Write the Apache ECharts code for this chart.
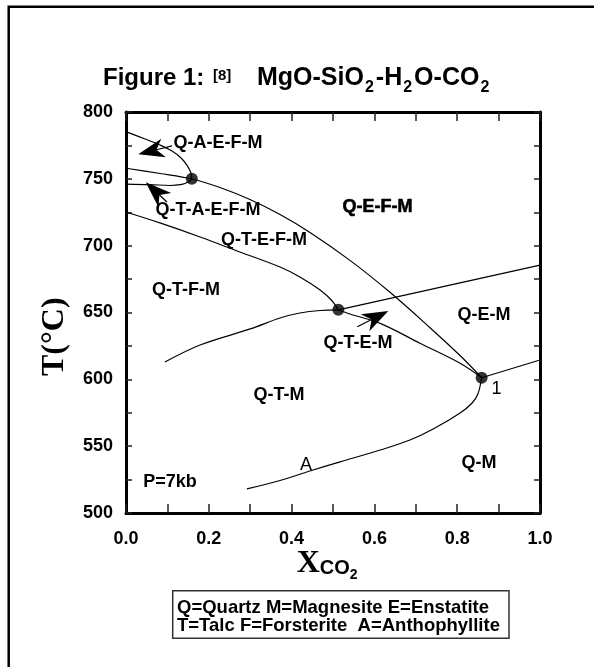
<!DOCTYPE html>
<html><head><meta charset="utf-8">
<script src="https://cdn.jsdelivr.net/npm/echarts@6/dist/echarts.min.js"></script>
<style>html,body{margin:0;padding:0;background:#fff}#c{width:594px;height:667px}</style>
</head><body><div id="c"></div>
<script>
// ---------- data (XCO2, T in °C) ----------
const xTickLabels = ['0.0', '0.2', '0.4', '0.6', '0.8', '1.0'];
const yTickLabels = ['500', '550', '600', '650', '700', '750', '800'];

const curveQAEFM = [[0, 785.3], [0.046, 779.8], [0.082, 775.3], [0.111, 770.8], [0.133, 765.6], [0.147, 760.3], [0.156, 755.1], [0.159, 749.9]];
const curveMain = [[0, 757.9], [0.082, 754.0], [0.159, 749.9], [0.227, 743.5], [0.2995, 734.5], [0.372, 723.3], [0.4444, 709.9], [0.5411, 689.0], [0.6377, 665.1], [0.7343, 638.6], [0.8068, 617.8], [0.8592, 601.2]];
const curveQTAEFM = [[0, 746.1], [0.058, 745.7], [0.106, 745.0], [0.135, 745.8], [0.150, 747.6], [0.159, 749.9]];
const curveQTEFM = [[0, 725.2], [0.082, 717.0], [0.179, 706.5], [0.275, 695.3], [0.372, 684.0], [0.420, 676.6], [0.469, 666.8], [0.498, 658.6], [0.513, 651.9]];
const curveQTFM = [[0.094, 613.0], [0.179, 625.7], [0.300, 637.7], [0.372, 645.9], [0.420, 649.6], [0.469, 651.5], [0.513, 651.9]];
const curveQTMRight = [[0.513, 651.9], [1.0, 685.5]];
const curveQTEM = [[0.513, 651.9], [0.541, 648.9], [0.614, 641.9], [0.710, 627.0], [0.807, 612.0], [0.859, 601.2]];
const curveQEMRight = [[0.859, 601.2], [1.0, 614.5]];
const curveA = [[0.292, 518.0], [0.372, 524.3], [0.444, 531.4], [0.517, 538.2], [0.614, 547.1], [0.686, 554.6], [0.742, 562.8], [0.807, 574.8], [0.836, 582.3], [0.850, 589.0], [0.859, 601.2]];
const invariantPoints = [[0.159, 750.0], [0.513, 652.0], [0.859, 601.2]];
// arrows: [xFrom, yFrom, xTo, yTo]
const arrows = [[0.1111, 774.6, 0.0297, 768.4], [0.0990, 732.7, 0.0476, 747.4], [0.5587, 639.4, 0.6336, 651.1]];

// ---------- chart ----------
const SANS = '"Liberation Sans", Arial, sans-serif';
const SERIF = '"Liberation Serif", "Times New Roman", serif';
const chart = echarts.init(document.getElementById('c'), null, {renderer: 'canvas'});
const mctx = document.createElement('canvas').getContext('2d');
function fontOf(weight, size, family) { return weight + ' ' + size + 'px ' + family; }
function tw(t, font) { mctx.font = font; return mctx.measureText(t).width; }

function lineSeries(data, smooth) {
  return {type: 'line', data: data, showSymbol: false, smooth: smooth,
    lineStyle: {color: '#000', width: 1.2}, silent: true, z: 3};
}

function txt(text, x, y, opt) {
  opt = opt || {};
  return {type: 'text', x: x, y: y, rotation: opt.rotation || 0, z: 10,
    style: {text: text, fill: opt.fill || '#000', align: opt.align || 'center', verticalAlign: 'middle',
      font: fontOf(opt.weight || 'bold', opt.size || 18, opt.family || SANS),
      stroke: opt.stroke || null, lineWidth: opt.lineWidth || 0}};
}

// sequence of text pieces placed left-to-right on shared baselines
function seq(x0, pieces) {
  const out = [];
  let x = x0;
  pieces.forEach(p => {
    const fam = p.family || SANS, w = p.weight || 'bold';
    const f = fontOf(w, p.size, fam);
    const asc = fam === SERIF ? 0.3375 : 0.3465;
    x += p.before || 0;
    out.push(txt(p.t, x, p.base - asc * p.size, {align: 'left', size: p.size, family: fam, weight: w}));
    x += tw(p.t, f) + (p.after || 0);
  });
  return out;
}

const axisCommon = {
  type: 'value', axisLine: {show: true, onZero: false, lineStyle: {color: '#000', width: 3}},
  splitLine: {show: false}
};
const tickStyle = {color: '#222', width: 1.5};

const option = {
  animation: false,
  backgroundColor: '#fff',
  grid: {left: 126, top: 112, right: 54, bottom: 154, containLabel: false},
  xAxis: [
    Object.assign({}, axisCommon, {position: 'bottom', min: 0, max: 1, interval: 0.2,
      axisTick: {show: true, inside: true, length: 9, lineStyle: tickStyle},
      minorTick: {show: true, splitNumber: 2, length: 9, lineStyle: tickStyle},
      axisLabel: {show: true, margin: 17, color: '#000', fontFamily: SANS, fontWeight: 'bold', fontSize: 18,
        formatter: v => xTickLabels[Math.round(v / 0.2)]}}),
    Object.assign({}, axisCommon, {position: 'top', min: 0, max: 1, interval: 0.2,
      axisTick: {show: true, inside: true, length: 9, lineStyle: tickStyle},
      minorTick: {show: true, splitNumber: 2, length: 9, lineStyle: tickStyle},
      axisLabel: {show: false}})
  ],
  yAxis: [
    Object.assign({}, axisCommon, {position: 'left', min: 500, max: 800, interval: 50,
      axisTick: {show: true, inside: true, length: 6, lineStyle: tickStyle},
      minorTick: {show: true, splitNumber: 2, length: 6, lineStyle: tickStyle},
      axisLabel: {show: true, margin: 13, color: '#000', fontFamily: SANS, fontWeight: 'bold', fontSize: 18,
        formatter: v => yTickLabels[Math.round((v - 500) / 50)]}}),
    Object.assign({}, axisCommon, {position: 'right', min: 500, max: 800, interval: 50,
      axisTick: {show: true, inside: true, length: 6, lineStyle: tickStyle},
      minorTick: {show: true, splitNumber: 2, length: 6, lineStyle: tickStyle},
      axisLabel: {show: false}})
  ],
  series: [
    lineSeries(curveQAEFM, 0.35),
    lineSeries(curveMain, 0.35),
    lineSeries(curveQTAEFM, 0.35),
    lineSeries(curveQTEFM, 0.35),
    lineSeries(curveQTFM, 0.35),
    lineSeries(curveQTMRight, false),
    lineSeries(curveQTEM, 0.35),
    lineSeries(curveQEMRight, false),
    lineSeries(curveA, 0.35),
    {type: 'scatter', data: invariantPoints, symbol: 'circle', symbolSize: 12,
      itemStyle: {color: '#000'}, silent: true, z: 5},
    {type: 'custom', data: arrows, encode: {x: [0, 2], y: [1, 3]}, silent: true, z: 6,
      renderItem: function (params, api) {
        const p0 = api.coord([api.value(0), api.value(1)]);
        const p1 = api.coord([api.value(2), api.value(3)]);
        const dx = p1[0] - p0[0], dy = p1[1] - p0[1];
        const len = Math.sqrt(dx * dx + dy * dy);
        const ux = dx / len, uy = dy / len, nx = -uy, ny = ux;
        const L = 26, W = 9.5;
        const back = [p1[0] - L * ux, p1[1] - L * uy];
        const notch = [p1[0] - 0.72 * L * ux, p1[1] - 0.72 * L * uy];
        return {type: 'group', children: [
          {type: 'line', shape: {x1: p0[0], y1: p0[1], x2: notch[0], y2: notch[1]},
            style: {stroke: '#000', lineWidth: 1.2}},
          {type: 'polygon', shape: {points: [p1, [back[0] + W * nx, back[1] + W * ny], notch,
            [back[0] - W * nx, back[1] - W * ny]]}, style: {fill: '#000'}}
        ]};
      }}
  ],
  graphic: [].concat(
    [{type: 'rect', shape: {x: 8.7, y: 6.8, width: 700, height: 700}, style: {fill: null, stroke: '#000', lineWidth: 2.5}, z: 1}],
    // title
    seq(103, [{t: 'Figure 1:', size: 24, base: 86.7}]),
    seq(213, [{t: '[8]', size: 15, base: 81}]),
    seq(257, [
      {t: 'MgO-SiO', size: 25, base: 86.7},
      {t: '2', size: 16, base: 93, before: 1, after: 2},
      {t: '-H', size: 25, base: 86.7},
      {t: '2', size: 16, base: 93, before: 1, after: 2},
      {t: 'O-CO', size: 25, base: 86.7},
      {t: '2', size: 16, base: 93, before: 1}
    ]),
    // axis names
    [txt('T(\u00B0C)', 55, 336.7, {size: 32, family: SERIF, rotation: Math.PI / 2})],
    seq(296.7, [
      {t: 'X', size: 32, family: SERIF, base: 575},
      {t: 'CO', size: 20, base: 575},
      {t: '2', size: 14, base: 580}
    ]),
    // field labels
    [
      txt('Q-A-E-F-M', 218, 143),
      txt('Q-T-A-E-F-M', 208, 210),
      txt('Q-T-E-F-M', 264, 240),
      txt('Q-E-F-M', 377.5, 207, {weight: '900', stroke: '#000', lineWidth: 0.6}),
      txt('Q-T-F-M', 186, 290),
      txt('Q-T-E-M', 358, 343),
      txt('Q-E-M', 484, 315),
      txt('Q-T-M', 279, 395),
      txt('Q-M', 479, 463),
      txt('P=7kb', 170, 482),
      txt('A', 306, 465, {weight: 'normal'}),
      txt('1', 496.5, 389, {weight: 'normal'}),
      // legend box
      {type: 'rect', shape: {x: 172.7, y: 590.7, width: 336.3, height: 47.6}, style: {fill: '#fff', stroke: '#333', lineWidth: 1.5}, z: 9},
      txt('Q=Quartz M=Magnesite E=Enstatite', 177, 608.3, {align: 'left', size: 18.5}),
      txt('T=Talc F=Forsterite  A=Anthophyllite', 177, 626, {align: 'left', size: 18.5})
    ]
  )
};
chart.setOption(option);
</script>
</body></html>
